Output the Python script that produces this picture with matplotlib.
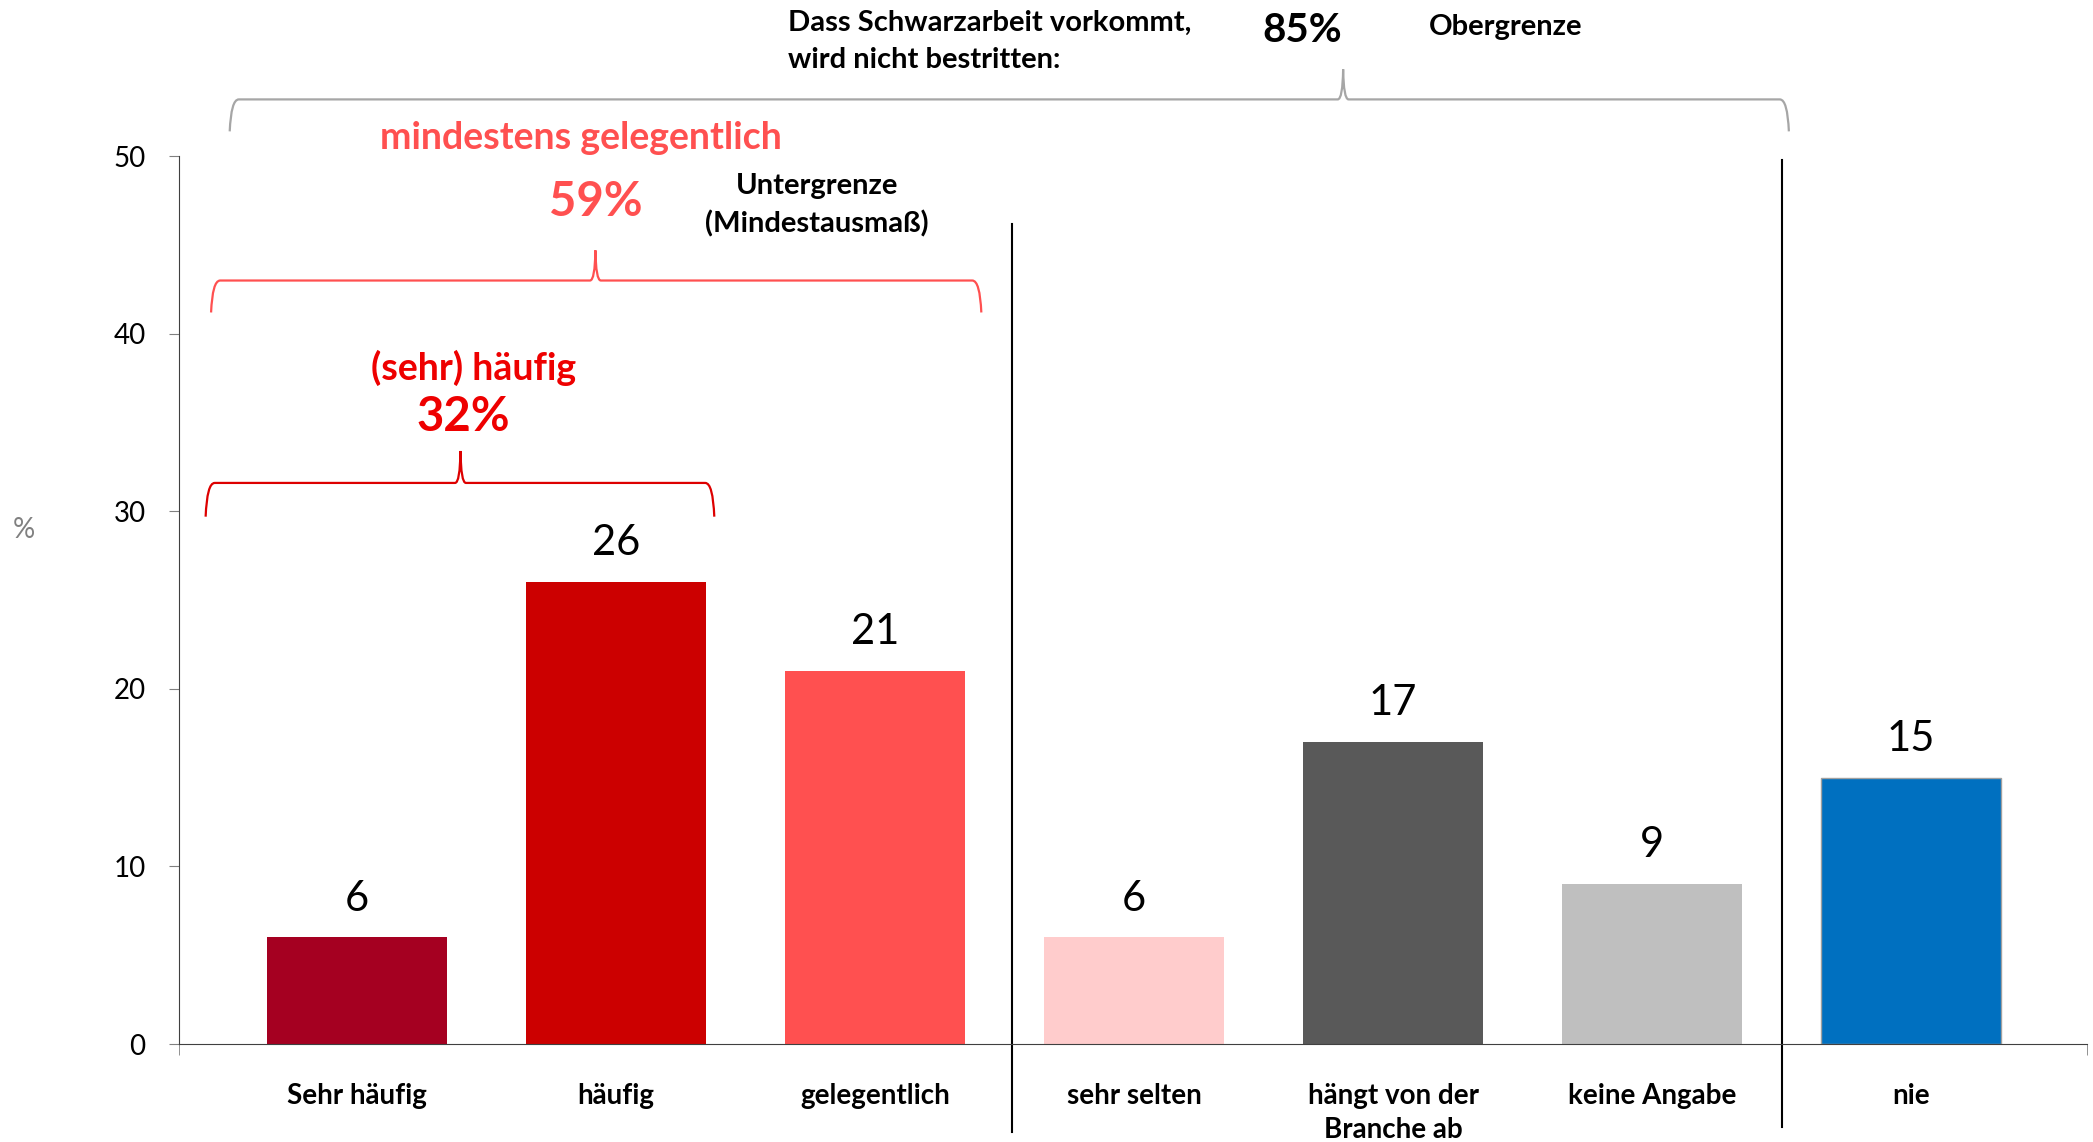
import matplotlib.pyplot as plt
from matplotlib.path import Path
from matplotlib.patches import PathPatch

plt.rcParams["font.family"] = ["Lato", "DejaVu Sans"]

categories = ["Sehr häufig", "häufig", "gelegentlich", "sehr selten",
              "hängt von der\nBranche ab", "keine Angabe", "nie"]
values = [6, 26, 21, 6, 17, 9, 15]
bar_colors = ["#A50021", "#CC0000", "#FF5050", "#FFCCCC", "#595959", "#BFBFBF", "#0070C0"]
yticks = [0, 10, 20, 30, 40, 50]

group_labels = ["(sehr) häufig", "mindestens gelegentlich", "Dass Schwarzarbeit vorkommt,"]
group_shares = ["32%", "59%", "85%"]


def brace(ax, x0, x1, xm, y, drop, rise, color, dx=0.035):
    # curly bracket opening downwards, ends hanging to y-drop, tip pointing up
    verts = [
        (x0, y - drop), (x0 + dx * 0.15, y), (x0 + dx, y),
        (xm - dx * 0.6, y),
        (xm - dx * 0.05, y), (xm, y + rise),
        (xm + dx * 0.05, y), (xm + dx * 0.6, y),
        (x1 - dx, y),
        (x1 - dx * 0.15, y), (x1, y - drop),
    ]
    codes = [Path.MOVETO, Path.CURVE3, Path.CURVE3, Path.LINETO,
             Path.CURVE3, Path.CURVE3, Path.CURVE3, Path.CURVE3,
             Path.LINETO, Path.CURVE3, Path.CURVE3]
    ax.add_patch(PathPatch(Path(verts, codes), fill=False, edgecolor=color,
                           lw=1.6, clip_on=False))


fig = plt.figure(figsize=(20.93, 11.42), dpi=100)
ax = fig.add_axes([0.0855, 0.0858, 0.9115, 0.7774])

x = list(range(len(values)))
bars = ax.bar(x, values, width=0.696, color=bar_colors)
bars[-1].set_edgecolor("#A0A0A0")
bars[-1].set_linewidth(1.0)

for b, v in zip(bars, values):
    ax.annotate(f"{v}", xy=(b.get_x() + b.get_width() / 2, v), xytext=(0, 28),
                textcoords="offset points", ha="center", va="center", fontsize=30)

ax.set_xlim(-0.688, 6.678)
ax.set_ylim(0, 50)
ax.set_yticks(yticks)
ax.tick_params(axis="y", labelsize=20, length=7, color="#808080", pad=17)
ax.set_xticks(x)
ax.set_xticklabels(categories, fontsize=20, fontweight="bold", linespacing=1.4)
ax.tick_params(axis="x", length=0, pad=28)
ax.set_xticks([-0.688, 6.678], minor=True)
ax.tick_params(axis="x", which="minor", length=8, color="#808080")

for s in ["top", "right"]:
    ax.spines[s].set_visible(False)
ax.spines["left"].set_color("#404040")
ax.spines["bottom"].set_color("#404040")

# group separators, running below the baseline
ax.plot([2.53, 2.53], [-4.96, 46.2], color="black", lw=1.5, clip_on=False)
ax.plot([5.5, 5.5], [-4.7, 49.8], color="black", lw=1.5, clip_on=False)

# braces
brace(ax, -0.492, 5.528, 3.807, 53.2, 1.8, 1.7, "#A6A6A6")
brace(ax, -0.564, 2.410, 0.920, 43.0, 1.8, 1.7, "#FF5050")
brace(ax, -0.585, 1.379, 0.399, 31.6, 1.9, 1.8, "#DD0000")

# outer group text
ax.text(1.662, 57.5, group_labels[2], ha="left", va="center", fontsize=21,
        fontweight="bold")
ax.text(1.662, 55.4, "wird nicht bestritten:", ha="left", va="center", fontsize=21,
        fontweight="bold")
ax.text(3.647, 57.1, group_shares[2], ha="center", va="center", fontsize=29,
        fontweight="bold")
ax.text(4.137, 57.3, "Obergrenze", ha="left", va="center", fontsize=21,
        fontweight="bold")

# middle group text
ax.text(0.863, 51.05, group_labels[1], ha="center", va="center", fontsize=27,
        fontweight="bold", color="#FF5050")
ax.text(0.920, 47.4, group_shares[1], ha="center", va="center", fontsize=34,
        fontweight="bold", color="#FF5050")
ax.text(1.776, 48.3, "Untergrenze", ha="center", va="center", fontsize=21,
        fontweight="bold")
ax.text(1.776, 46.2, "(Mindestausmaß)", ha="center", va="center", fontsize=21,
        fontweight="bold")

# inner group text
ax.text(0.451, 38.1, group_labels[0], ha="center", va="center", fontsize=27,
        fontweight="bold", color="#EE0000")
ax.text(0.410, 35.3, group_shares[0], ha="center", va="center", fontsize=34,
        fontweight="bold", color="#EE0000")

fig.text(0.0115, 0.536, "%", ha="center", va="center", fontsize=20, color="#808080")

fig.savefig("out.png", dpi=100)
